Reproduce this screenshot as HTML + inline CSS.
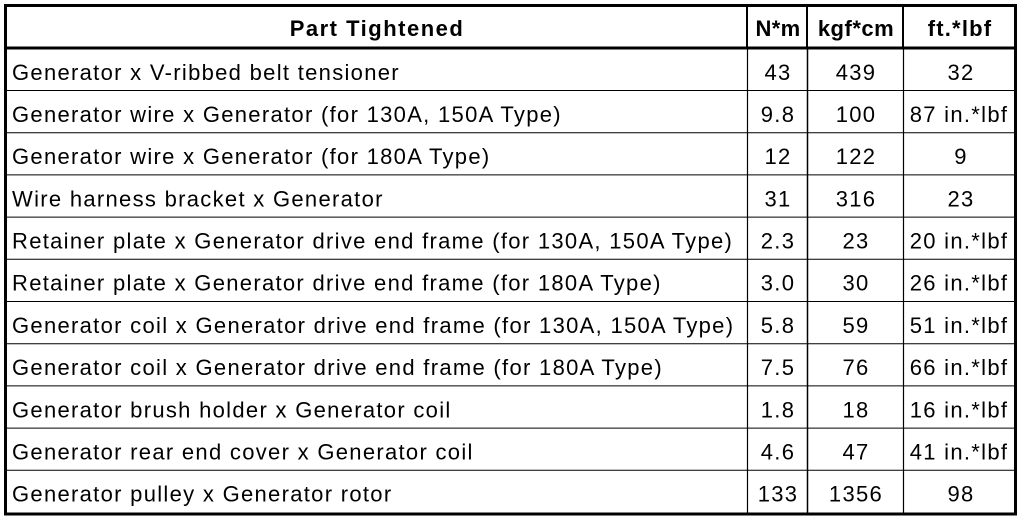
<!DOCTYPE html>
<html><head><style>
body{margin:0;background:#fff;}
svg text{font-family:"Liberation Sans",Arial,sans-serif;font-size:22px;letter-spacing:1.3px;fill:#000;}
</style></head><body>
<svg width="1024" height="522" xmlns="http://www.w3.org/2000/svg">
<rect x="0" y="0" width="1024" height="522" fill="#fff"/>
<g stroke="#000">
<rect x="5.5" y="5.5" width="1010" height="508.5" fill="none" stroke-width="3"/>
<line x1="4" y1="48" x2="1017" y2="48" stroke-width="3"/>
<line x1="747" y1="4" x2="747" y2="48" stroke-width="2"/>
<line x1="807" y1="4" x2="807" y2="48" stroke-width="2"/>
<line x1="903" y1="4" x2="903" y2="48" stroke-width="2"/>
<line x1="747.5" y1="48" x2="747.5" y2="514" stroke-width="1.2"/>
<line x1="807.5" y1="48" x2="807.5" y2="514" stroke-width="1.5"/>
<line x1="903.5" y1="48" x2="903.5" y2="514" stroke-width="1.2"/>
<line x1="4" y1="90.5" x2="1017" y2="90.5" stroke-width="1"/>
<line x1="4" y1="132.7" x2="1017" y2="132.7" stroke-width="1"/>
<line x1="4" y1="174.9" x2="1017" y2="174.9" stroke-width="1"/>
<line x1="4" y1="217.1" x2="1017" y2="217.1" stroke-width="1"/>
<line x1="4" y1="259.3" x2="1017" y2="259.3" stroke-width="1"/>
<line x1="4" y1="301.5" x2="1017" y2="301.5" stroke-width="1"/>
<line x1="4" y1="343.7" x2="1017" y2="343.7" stroke-width="1"/>
<line x1="4" y1="385.9" x2="1017" y2="385.9" stroke-width="1"/>
<line x1="4" y1="428.1" x2="1017" y2="428.1" stroke-width="1"/>
<line x1="4" y1="470.3" x2="1017" y2="470.3" stroke-width="1"/>
</g>
<g text-anchor="middle">
<text x="377" y="36" font-weight="bold" style="letter-spacing:1.5px">Part Tightened</text>
<text x="778" y="36" font-weight="bold" style="letter-spacing:0.3px">N*m</text>
<text x="856" y="36" font-weight="bold" style="letter-spacing:0.5px">kgf*cm</text>
<text x="960" y="36" font-weight="bold" style="letter-spacing:1.2px">ft.*lbf</text>
</g>
<g>
<text x="12" y="80">Generator x V-ribbed belt tensioner</text>
<text x="12" y="122">Generator wire x Generator (for 130A, 150A Type)</text>
<text x="12" y="164">Generator wire x Generator (for 180A Type)</text>
<text x="12" y="206.5">Wire harness bracket x Generator</text>
<text x="12" y="248.5">Retainer plate x Generator drive end frame (for 130A, 150A Type)</text>
<text x="12" y="290.5">Retainer plate x Generator drive end frame (for 180A Type)</text>
<text x="12" y="333">Generator coil x Generator drive end frame (for 130A, 150A Type)</text>
<text x="12" y="375">Generator coil x Generator drive end frame (for 180A Type)</text>
<text x="12" y="417.5">Generator brush holder x Generator coil</text>
<text x="12" y="459.5">Generator rear end cover x Generator coil</text>
<text x="12" y="501.5">Generator pulley x Generator rotor</text>
</g>
<g text-anchor="middle">
<text x="778" y="80">43</text><text x="856" y="80">439</text><text x="961" y="80">32</text>
<text x="778" y="122">9.8</text><text x="856" y="122">100</text><text x="959" y="122">87 in.*lbf</text>
<text x="778" y="164">12</text><text x="856" y="164">122</text><text x="961" y="164">9</text>
<text x="778" y="206.5">31</text><text x="856" y="206.5">316</text><text x="961" y="206.5">23</text>
<text x="778" y="248.5">2.3</text><text x="856" y="248.5">23</text><text x="959" y="248.5">20 in.*lbf</text>
<text x="778" y="290.5">3.0</text><text x="856" y="290.5">30</text><text x="959" y="290.5">26 in.*lbf</text>
<text x="778" y="333">5.8</text><text x="856" y="333">59</text><text x="959" y="333">51 in.*lbf</text>
<text x="778" y="375">7.5</text><text x="856" y="375">76</text><text x="959" y="375">66 in.*lbf</text>
<text x="778" y="417.5">1.8</text><text x="856" y="417.5">18</text><text x="959" y="417.5">16 in.*lbf</text>
<text x="778" y="459.5">4.6</text><text x="856" y="459.5">47</text><text x="959" y="459.5">41 in.*lbf</text>
<text x="778" y="501.5">133</text><text x="856" y="501.5">1356</text><text x="961" y="501.5">98</text>
</g>
</svg>
</body></html>
